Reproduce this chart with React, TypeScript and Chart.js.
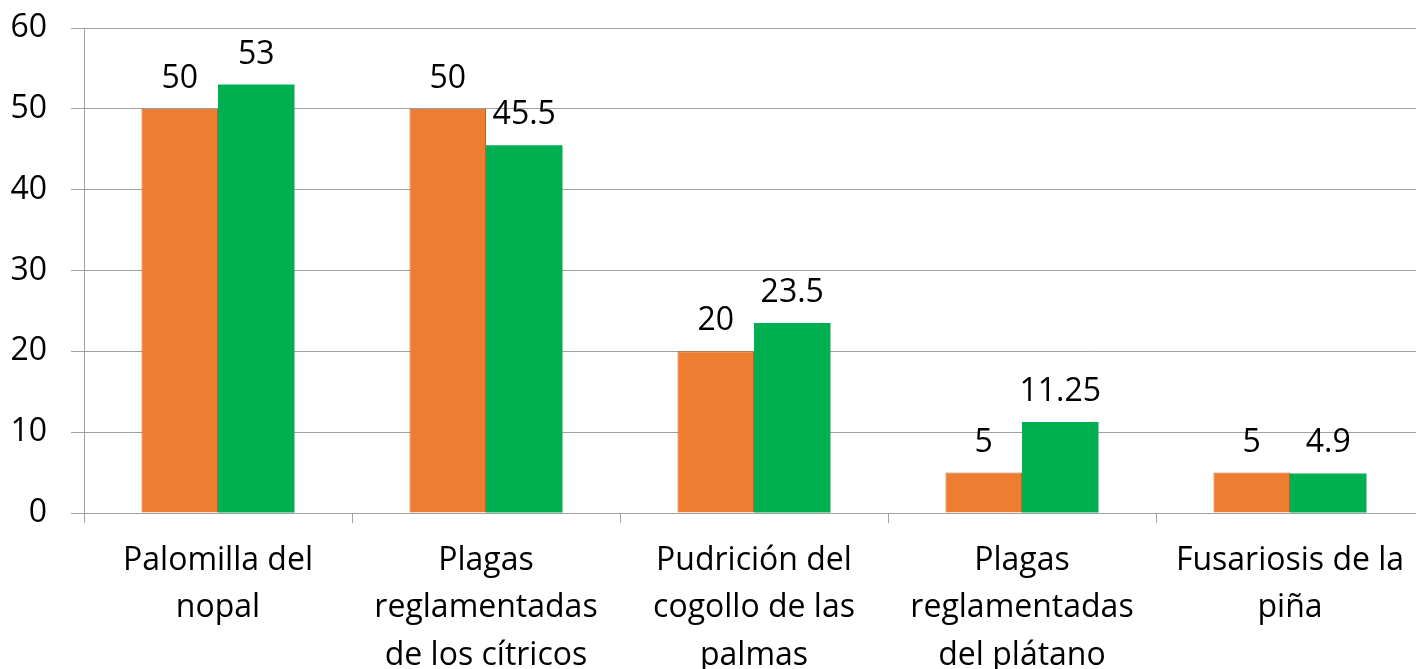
import React, { useEffect, useRef } from "react";
import { Chart, registerables } from "chart.js";

Chart.register(...registerables);

const categories: string[][] = [
  ["Palomilla del", "nopal"],
  ["Plagas", "reglamentadas", "de los cítricos"],
  ["Pudrición del", "cogollo de las", "palmas"],
  ["Plagas", "reglamentadas", "del plátano"],
  ["Fusariosis de la", "piña"],
];
const seriesA: number[] = [50, 50, 20, 5, 5];
const seriesB: number[] = [53, 45.5, 23.5, 11.25, 4.9];
const labelsA: string[] = ["50", "50", "20", "5", "5"];
const labelsB: string[] = ["53", "45.5", "23.5", "11.25", "4.9"];

const FONT = "'Open Sans', sans-serif";

const dataLabelPlugin = {
  id: "dataLabels",
  afterDatasetsDraw(chart: any) {
    const ctx = chart.ctx;
    ctx.save();
    ctx.font = `32px ${FONT}`;
    ctx.fillStyle = "#000000";
    ctx.textAlign = "center";
    ctx.textBaseline = "alphabetic";
    const texts = [labelsA, labelsB];
    chart.data.datasets.forEach((_ds: any, di: number) => {
      const meta = chart.getDatasetMeta(di);
      meta.data.forEach((el: any, i: number) => {
        ctx.fillText(texts[di][i], el.x, el.y - 21);
      });
    });
    ctx.restore();
  },
};

export default function App() {
  const ref = useRef<HTMLCanvasElement | null>(null);
  useEffect(() => {
    if (!ref.current) return;
    const chart = new Chart(ref.current, {
      type: "bar",
      data: {
        labels: categories as any,
        datasets: [
          {
            data: seriesA,
            backgroundColor: "#ED7D31",
            borderColor: "#C8611B",
            borderWidth: 1,
            categoryPercentage: 0.571,
            barPercentage: 1,
          },
          {
            data: seriesB,
            backgroundColor: "#00B050",
            borderColor: "#00B050",
            borderWidth: 0,
            categoryPercentage: 0.571,
            barPercentage: 1,
          },
        ],
      },
      options: {
        animation: false,
        responsive: true,
        maintainAspectRatio: false,
        layout: { padding: { top: 28, left: 0, right: 0, bottom: 0 } },
        plugins: {
          legend: { display: false },
          tooltip: { enabled: false },
        },
        scales: {
          x: {
            offset: true,
            grid: {
              display: true,
              drawOnChartArea: false,
              drawTicks: true,
              tickLength: 10,
              color: "#A0A0A0",
              offset: true,
            },
            border: { display: true, color: "#A0A0A0" },
            ticks: {
              color: "#000000",
              font: { family: FONT, size: 32, lineHeight: 1.48 },
              padding: 14,
              maxRotation: 0,
              autoSkip: false,
            },
            afterFit(scale: any) {
              scale.height = 156;
              scale.paddingLeft = 0;
              scale.paddingRight = 0;
            },
          },
          y: {
            min: 0,
            max: 60,
            grid: {
              color: "#A0A0A0",
              tickLength: 13,
              drawTicks: true,
            },
            border: { display: true, color: "#A0A0A0" },
            ticks: {
              stepSize: 10,
              color: "#000000",
              font: { family: FONT, size: 32 },
              padding: 24,
            },
            afterFit(scale: any) {
              scale.width = 84;
              scale.paddingTop = 0;
              scale.paddingBottom = 0;
            },
          },
        },
      },
      plugins: [dataLabelPlugin],
    });
    return () => chart.destroy();
  }, []);

  return (
    <div
      style={{
        position: "absolute",
        left: 0,
        top: 0,
        width: 1416,
        height: 669,
        overflow: "hidden",
        background: "#ffffff",
      }}
    >
      <div style={{ position: "relative", width: 1424, height: 669 }}>
        <canvas ref={ref} />
      </div>
    </div>
  );
}
